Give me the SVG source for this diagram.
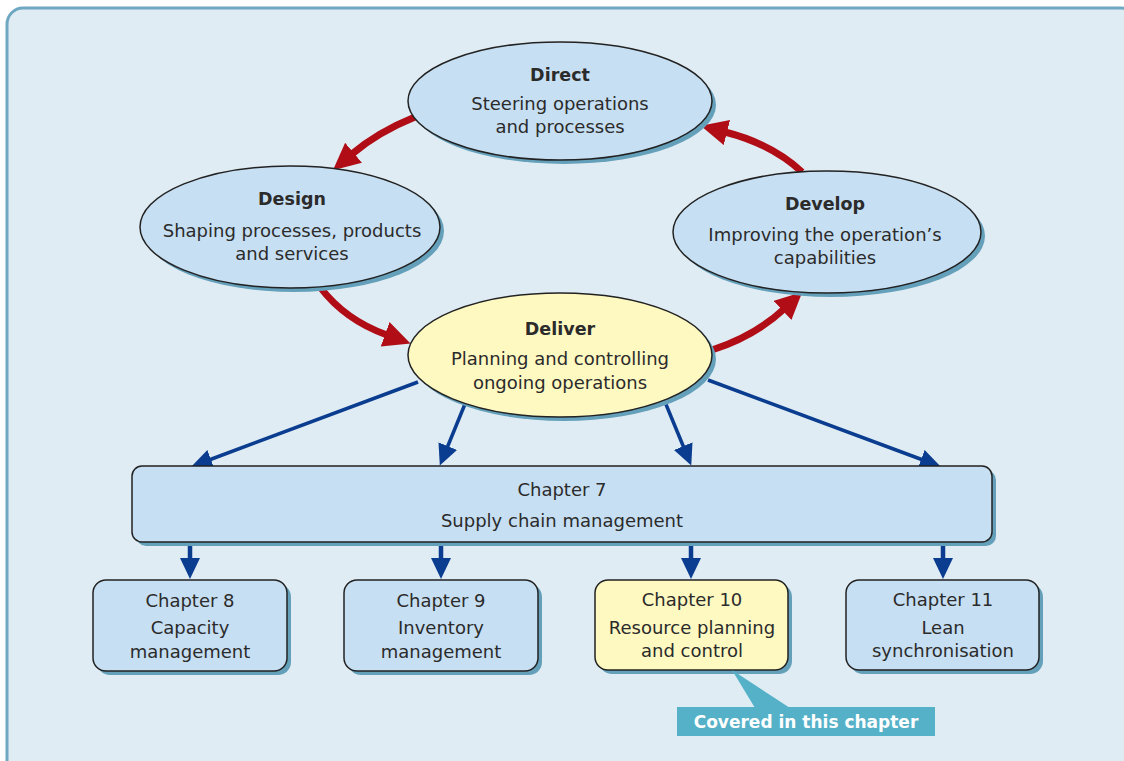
<svg xmlns="http://www.w3.org/2000/svg" width="1124" height="761" viewBox="0 0 1124 761">
<defs>
<style>
.bg{fill:#e0ecf3;stroke:#6fa8c2;stroke-width:3}
.sh{fill:#65a0bb}
.blue{fill:#c7dff2;stroke:#222;stroke-width:1.5}
.yel{fill:#fef8c1;stroke:#222;stroke-width:1.5}
text{font-family:"DejaVu Sans","Open Sans","Liberation Sans",sans-serif;fill:#2b2b2b;text-anchor:middle;font-size:18px}
.b{font-weight:bold;font-size:17.5px}
.red{fill:none;stroke:#b00d17;stroke-width:7}
.bl{fill:none;stroke:#0a3d8f;stroke-width:3.5}
.dn{fill:none;stroke:#0a3d8f;stroke-width:4.5}
</style>
<marker id="ra" markerUnits="userSpaceOnUse" markerWidth="30" markerHeight="28" refX="2" refY="13" orient="auto" viewBox="0 0 30 28">
<path d="M0,0 L27,13 L0,26 z" fill="#b00d17"/>
</marker>
<marker id="ba" markerUnits="userSpaceOnUse" markerWidth="22" markerHeight="22" refX="2" refY="10" orient="auto" viewBox="0 0 22 22">
<path d="M0,0 L21,10 L0,20 z" fill="#0a3d8f"/>
</marker>
</defs>
<rect class="bg" x="7" y="8" width="1130" height="770" rx="16"/>

<g id="connectors">
<path class="red" d="M415 117 Q378 132 352 154" marker-end="url(#ra)"/>
<path class="red" d="M320 287 Q345 320 387 335" marker-end="url(#ra)"/>
<path class="red" d="M712 350 Q755 336 784 309" marker-end="url(#ra)"/>
<path class="red" d="M802 172 Q772 144 725 132" marker-end="url(#ra)"/>
<path class="bl" d="M418 382 L209 460" marker-end="url(#ba)"/>
<path class="bl" d="M465 404 L447 448" marker-end="url(#ba)"/>
<path class="bl" d="M665 402 L684 448" marker-end="url(#ba)"/>
<path class="bl" d="M708 380 L923 460" marker-end="url(#ba)"/>
<path class="dn" d="M190 542 L190 560" marker-end="url(#ba)"/>
<path class="dn" d="M441 542 L441 560" marker-end="url(#ba)"/>
<path class="dn" d="M691 542 L691 560" marker-end="url(#ba)"/>
<path class="dn" d="M943 542 L943 560" marker-end="url(#ba)"/>
</g>

<g id="direct">
<ellipse class="sh" cx="564" cy="105" rx="152" ry="59"/>
<ellipse class="blue" cx="560" cy="101" rx="152" ry="59"/>
<text class="b" x="560" y="81">Direct</text>
<text x="560" y="110">Steering operations</text>
<text x="560" y="133">and processes</text>
</g>

<g id="design">
<ellipse class="sh" cx="294" cy="231" rx="150" ry="61"/>
<ellipse class="blue" cx="290" cy="227" rx="150" ry="61"/>
<text class="b" x="292" y="205">Design</text>
<text x="292" y="237">Shaping processes, products</text>
<text x="292" y="260">and services</text>
</g>

<g id="develop">
<ellipse class="sh" cx="831" cy="236" rx="154" ry="61"/>
<ellipse class="blue" cx="827" cy="232" rx="154" ry="61"/>
<text class="b" x="825" y="210">Develop</text>
<text x="825" y="241">Improving the operation’s</text>
<text x="825" y="264">capabilities</text>
</g>

<g id="deliver">
<ellipse class="sh" cx="564" cy="359" rx="152" ry="62"/>
<ellipse class="yel" cx="560" cy="355" rx="152" ry="62"/>
<text class="b" x="560" y="335">Deliver</text>
<text x="560" y="365">Planning and controlling</text>
<text x="560" y="389">ongoing operations</text>
</g>

<g id="ch7">
<rect class="sh" x="136" y="470" width="860" height="76" rx="10"/>
<rect class="blue" x="132" y="466" width="860" height="76" rx="10"/>
<text x="562" y="496">Chapter 7</text>
<text x="562" y="527">Supply chain management</text>
</g>

<g id="ch8">
<rect class="sh" x="97" y="584" width="194" height="91" rx="13"/>
<rect class="blue" x="93" y="580" width="194" height="91" rx="13"/>
<text x="190" y="607">Chapter 8</text>
<text x="190" y="634">Capacity</text>
<text x="190" y="658">management</text>
</g>

<g id="ch9">
<rect class="sh" x="348" y="584" width="194" height="91" rx="13"/>
<rect class="blue" x="344" y="580" width="194" height="91" rx="13"/>
<text x="441" y="607">Chapter 9</text>
<text x="441" y="634">Inventory</text>
<text x="441" y="658">management</text>
</g>

<g id="ch10">
<rect class="sh" x="599" y="584" width="193" height="90" rx="13"/>
<rect class="yel" x="595" y="580" width="193" height="90" rx="13"/>
<text x="692" y="606">Chapter 10</text>
<text x="692" y="634">Resource planning</text>
<text x="692" y="657">and control</text>
</g>

<g id="ch11">
<rect class="sh" x="850" y="584" width="193" height="90" rx="13"/>
<rect class="blue" x="846" y="580" width="193" height="90" rx="13"/>
<text x="943" y="606">Chapter 11</text>
<text x="943" y="634">Lean</text>
<text x="943" y="657">synchronisation</text>
</g>

<g id="callout">
<polygon points="732,670 755,708 790,708" fill="#55b1c7"/>
<rect x="677" y="707" width="258" height="29" fill="#55b1c7"/>
<text class="b" x="806" y="728" style="fill:#ffffff;font-size:17px">Covered in this chapter</text>
</g>
</svg>
